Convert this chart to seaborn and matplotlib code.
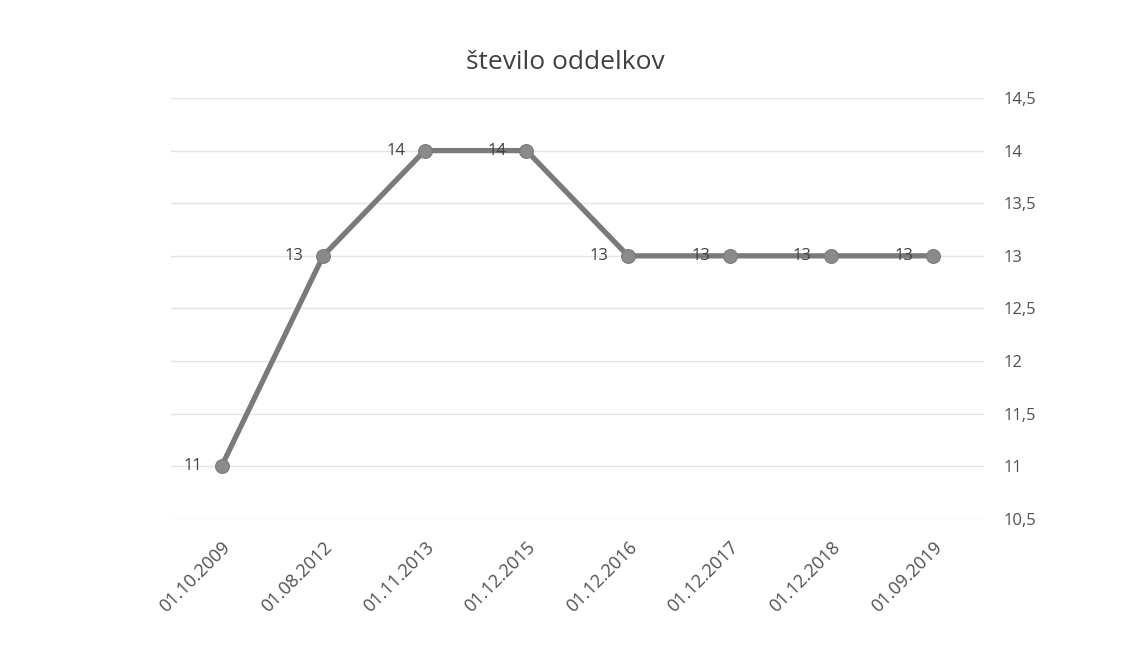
import matplotlib
matplotlib.use("Agg")
import matplotlib.pyplot as plt
import seaborn as sns
import pandas as pd

dates = ["01.10.2009", "01.08.2012", "01.11.2013", "01.12.2015",
         "01.12.2016", "01.12.2017", "01.12.2018", "01.09.2019"]
values = [11, 13, 14, 14, 13, 13, 13, 13]
yticks = [10.5, 11, 11.5, 12, 12.5, 13, 13.5, 14, 14.5]
ytick_labels = ["10,5", "11", "11,5", "12", "12,5", "13", "13,5", "14", "14,5"]
title = "število oddelkov"

sns.set_theme(style="white")
plt.rcParams['font.family'] = ['Open Sans', 'DejaVu Sans']

df = pd.DataFrame({"datum": dates, "vrednost": values})
df["x"] = range(len(dates))

fig = plt.figure(figsize=(11.23, 6.6), dpi=100)
ax = fig.add_axes([0.152, 0.2136, 0.724, 0.638])

sns.lineplot(data=df, x="x", y="vrednost", ax=ax, color="#7a7a7a",
             linewidth=3.8, marker="o", markersize=10,
             markeredgecolor="#7a7a7a", markerfacecolor="#8a8a8a", zorder=3)

for xi, v in zip(df["x"], df["vrednost"]):
    ax.annotate(f"{v}", (xi, v), xytext=(-14, 0), textcoords="offset points",
                ha="right", va="center", fontsize=12, color="#404040")

ax.set_xlim(-0.5, len(dates) - 0.5)
ax.set_ylim(10.5, 14.5)
ax.set_xticks(df["x"])
ax.set_xticklabels(dates, rotation=45, ha="right", rotation_mode="anchor",
                   fontsize=13, color="#505050")
ax.yaxis.tick_right()
ax.set_yticks(yticks)
ax.set_yticklabels(ytick_labels, fontsize=12, color="#505050")
ax.tick_params(axis="y", length=0, pad=14)
ax.tick_params(axis="x", length=0, pad=14)
ax.grid(axis="y", color="#e4e4e4", linewidth=1)
ax.set_axisbelow(True)
for s in ax.spines.values():
    s.set_visible(False)
ax.set_xlabel("")
ax.set_ylabel("")
fig.text(0.503, 0.905, title, ha="center", va="center", fontsize=19, color="#404040")

fig.savefig("out.png", dpi=100)
